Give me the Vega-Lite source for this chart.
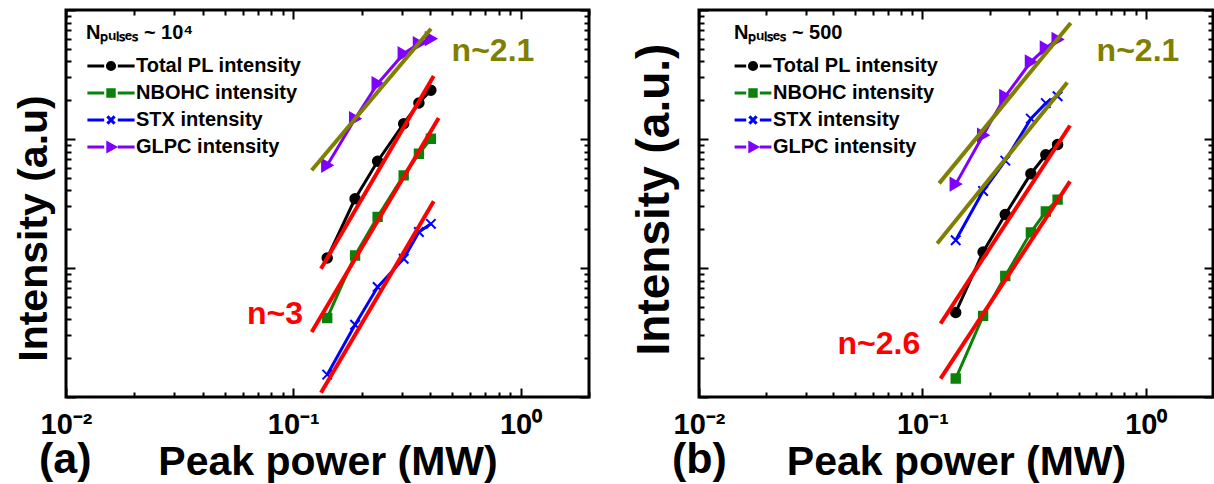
{
  "$schema": "https://vega.github.io/schema/vega-lite/v6.json",
  "background": "white",
  "padding": {"left": 11, "top": 7, "right": 0, "bottom": 0},
  "spacing": 37,
  "resolve": {"scale": {"color": "independent", "shape": "independent", "fill": "independent", "stroke": "independent"}, "legend": {"color": "independent", "shape": "independent"}},
  "config": {
    "font": "Liberation Sans",
    "view": {"stroke": "#000000", "strokeWidth": 3},
    "axis": {"domain": false, "grid": false, "tickColor": "#000000", "tickWidth": 2, "labelFont": "Liberation Sans", "labelFontWeight": "bold", "labelFontSize": 29, "labelColor": "#000000", "labelAlign": "center", "titleFont": "Liberation Sans", "titleFontWeight": "bold", "titleColor": "#000000", "labelOverlap": false, "labelFlush": false},
    "legend": {"orient": "none", "padding": 0, "titleFont": "Liberation Sans", "titleFontWeight": "bold", "titleFontSize": 20, "titleColor": "#000000", "labelFont": "Liberation Sans", "labelFontWeight": "bold", "labelFontSize": 20, "labelColor": "#000000", "labelLimit": 400, "symbolSize": 64, "symbolStrokeWidth": 3, "symbolOpacity": 1, "rowPadding": 7, "titlePadding": 13}
  },
  "datasets": {
    "points": [
      {"panel": "a", "series": "Total PL intensity", "power": 0.141, "intensity": 11.96},
      {"panel": "a", "series": "Total PL intensity", "power": 0.187, "intensity": 34.4},
      {"panel": "a", "series": "Total PL intensity", "power": 0.235, "intensity": 67.2},
      {"panel": "a", "series": "Total PL intensity", "power": 0.306, "intensity": 131.4},
      {"panel": "a", "series": "Total PL intensity", "power": 0.357, "intensity": 190},
      {"panel": "a", "series": "Total PL intensity", "power": 0.403, "intensity": 238.6},
      {"panel": "a", "series": "NBOHC intensity", "power": 0.141, "intensity": 4.1},
      {"panel": "a", "series": "NBOHC intensity", "power": 0.187, "intensity": 12.5},
      {"panel": "a", "series": "NBOHC intensity", "power": 0.235, "intensity": 24.9},
      {"panel": "a", "series": "NBOHC intensity", "power": 0.306, "intensity": 52.3},
      {"panel": "a", "series": "NBOHC intensity", "power": 0.357, "intensity": 76.9},
      {"panel": "a", "series": "NBOHC intensity", "power": 0.403, "intensity": 100.5},
      {"panel": "a", "series": "STX intensity", "power": 0.141, "intensity": 1.49},
      {"panel": "a", "series": "STX intensity", "power": 0.187, "intensity": 3.63},
      {"panel": "a", "series": "STX intensity", "power": 0.235, "intensity": 7.12},
      {"panel": "a", "series": "STX intensity", "power": 0.306, "intensity": 11.8},
      {"panel": "a", "series": "STX intensity", "power": 0.357, "intensity": 19.0},
      {"panel": "a", "series": "STX intensity", "power": 0.403, "intensity": 22.0},
      {"panel": "a", "series": "GLPC intensity", "power": 0.141, "intensity": 62.5},
      {"panel": "a", "series": "GLPC intensity", "power": 0.187, "intensity": 143.7},
      {"panel": "a", "series": "GLPC intensity", "power": 0.235, "intensity": 268.5},
      {"panel": "a", "series": "GLPC intensity", "power": 0.306, "intensity": 458},
      {"panel": "a", "series": "GLPC intensity", "power": 0.357, "intensity": 548},
      {"panel": "a", "series": "GLPC intensity", "power": 0.403, "intensity": 599},
      {"panel": "b", "series": "Total PL intensity", "power": 0.141, "intensity": 4.52},
      {"panel": "b", "series": "Total PL intensity", "power": 0.187, "intensity": 13.3},
      {"panel": "b", "series": "Total PL intensity", "power": 0.235, "intensity": 26.0},
      {"panel": "b", "series": "Total PL intensity", "power": 0.306, "intensity": 53.8},
      {"panel": "b", "series": "Total PL intensity", "power": 0.357, "intensity": 75.4},
      {"panel": "b", "series": "Total PL intensity", "power": 0.403, "intensity": 90.6},
      {"panel": "b", "series": "NBOHC intensity", "power": 0.141, "intensity": 1.39},
      {"panel": "b", "series": "NBOHC intensity", "power": 0.187, "intensity": 4.25},
      {"panel": "b", "series": "NBOHC intensity", "power": 0.235, "intensity": 8.67},
      {"panel": "b", "series": "NBOHC intensity", "power": 0.306, "intensity": 18.9},
      {"panel": "b", "series": "NBOHC intensity", "power": 0.357, "intensity": 27.4},
      {"panel": "b", "series": "NBOHC intensity", "power": 0.403, "intensity": 33.9},
      {"panel": "b", "series": "STX intensity", "power": 0.141, "intensity": 16.4},
      {"panel": "b", "series": "STX intensity", "power": 0.187, "intensity": 39.5},
      {"panel": "b", "series": "STX intensity", "power": 0.235, "intensity": 68.0},
      {"panel": "b", "series": "STX intensity", "power": 0.306, "intensity": 143.9},
      {"panel": "b", "series": "STX intensity", "power": 0.357, "intensity": 189.8},
      {"panel": "b", "series": "STX intensity", "power": 0.403, "intensity": 214.3},
      {"panel": "b", "series": "GLPC intensity", "power": 0.141, "intensity": 44.7},
      {"panel": "b", "series": "GLPC intensity", "power": 0.187, "intensity": 107},
      {"panel": "b", "series": "GLPC intensity", "power": 0.235, "intensity": 214},
      {"panel": "b", "series": "GLPC intensity", "power": 0.306, "intensity": 396.6},
      {"panel": "b", "series": "GLPC intensity", "power": 0.357, "intensity": 507.6},
      {"panel": "b", "series": "GLPC intensity", "power": 0.403, "intensity": 591.7}
    ],
    "fits": [
      {"panel": "a", "fit": "a1", "exponent": "3", "power": 0.1324, "intensity": 9.88},
      {"panel": "a", "fit": "a1", "exponent": "3", "power": 0.4148, "intensity": 307.8},
      {"panel": "a", "fit": "a2", "exponent": "3", "power": 0.1205, "intensity": 3.19},
      {"panel": "a", "fit": "a2", "exponent": "3", "power": 0.4362, "intensity": 145.5},
      {"panel": "a", "fit": "a3", "exponent": "3", "power": 0.1324, "intensity": 1.08},
      {"panel": "a", "fit": "a3", "exponent": "3", "power": 0.4148, "intensity": 32.9},
      {"panel": "a", "fit": "a4", "exponent": "2.1", "power": 0.1205, "intensity": 57.2},
      {"panel": "a", "fit": "a4", "exponent": "2.1", "power": 0.4035, "intensity": 716},
      {"panel": "b", "fit": "b1", "exponent": "2.1", "power": 0.1189, "intensity": 45.3},
      {"panel": "b", "fit": "b1", "exponent": "2.1", "power": 0.4615, "intensity": 794},
      {"panel": "b", "fit": "b2", "exponent": "2.1", "power": 0.1165, "intensity": 15.5},
      {"panel": "b", "fit": "b2", "exponent": "2.1", "power": 0.4452, "intensity": 274},
      {"panel": "b", "fit": "b3", "exponent": "2.6", "power": 0.1206, "intensity": 3.71},
      {"panel": "b", "fit": "b3", "exponent": "2.6", "power": 0.4581, "intensity": 127.3},
      {"panel": "b", "fit": "b4", "exponent": "2.6", "power": 0.1206, "intensity": 1.39},
      {"panel": "b", "fit": "b4", "exponent": "2.6", "power": 0.4581, "intensity": 47.0}
    ],
    "notes": [
      {"panel": "a", "label": "n~2.1", "power": 0.756, "intensity": 481},
      {"panel": "a", "label": "n~3", "power": 0.0831, "intensity": 4.4},
      {"panel": "b", "label": "n~2.1", "power": 0.9228, "intensity": 484},
      {"panel": "b", "label": "n~2.6", "power": 0.0639, "intensity": 2.575}
    ]
  },
  "hconcat": [
    {
      "width": 523,
      "height": 387,
      "title": {"text": "(a)", "orient": "bottom", "anchor": "start", "frame": "group", "fontSize": 43, "fontWeight": "bold", "font": "Liberation Sans", "color": "#000000", "dx": -27, "dy": -43, "offset": 0},
      "resolve": {"axis": {"x": "independent", "y": "independent"}},
      "layer": [
        {
          "data": {"name": "points"},
          "transform": [{"filter": "datum.panel === 'a'"}],
          "mark": {"type": "line", "strokeWidth": 3},
          "encoding": {
            "x": {"field": "power", "type": "quantitative", "scale": {"type": "log", "domain": [0.01, 2]},
              "axis": {"orient": "bottom", "values": [0.01,0.02,0.03,0.04,0.05,0.06,0.07,0.08,0.09,0.1,0.2,0.3,0.4,0.5,0.6,0.7,0.8,0.9,1,2],
                "tickSize": {"condition": {"test": "datum.value == 0.01 || datum.value == 0.1 || datum.value == 1", "value": -9}, "value": -5},
                "labelExpr": "datum.value == 0.01 ? '10⁻²' : datum.value == 0.1 ? '10⁻¹' : datum.value == 1 ? '10⁰' : ''",
                "labelAlign": "center", "labelFlush": false, "labelPadding": 22, "title": "Peak power (MW)", "titleFontSize": 41, "titlePadding": -1}},
            "y": {"field": "intensity", "type": "quantitative", "scale": {"type": "log", "domain": [1, 1000]},
              "axis": {"orient": "left", "values": [1,2,3,4,5,6,7,8,9,10,20,30,40,50,60,70,80,90,100,200,300,400,500,600,700,800,900,1000],
                "tickSize": {"condition": {"test": "datum.value == 1 || datum.value == 10 || datum.value == 100 || datum.value == 1000", "value": -9}, "value": -5},
                "labels": false, "title": "Intensity (a.u)", "titleFontSize": 41, "titlePadding": 10, "titleY": 218}},
            "stroke": {"field": "series", "type": "nominal", "legend": null,
              "scale": {"range": ["#8000ff", "#0a820a", "#0000ff", "#000000"]}}
          }
        },
        {
          "data": {"name": "points"},
          "transform": [{"filter": "datum.panel === 'a'"}],
          "mark": {"type": "point", "filled": true, "strokeWidth": 2, "opacity": 1},
          "encoding": {
            "x": {"field": "power", "type": "quantitative", "scale": {"type": "log", "domain": [0.01, 2]}, "axis": null},
            "y": {"field": "intensity", "type": "quantitative", "scale": {"type": "log", "domain": [1, 1000]}, "axis": null},
            "fill": {"field": "series", "type": "nominal", "legend": null,
              "scale": {"range": ["#8000ff", "#0a820a", "#0000ff", "#000000"]}},
            "stroke": {"field": "series", "type": "nominal", "legend": null},
            "shape": {"condition": [
              {"test": "datum.series === 'Total PL intensity'", "value": "circle"},
              {"test": "datum.series === 'NBOHC intensity'", "value": "square"},
              {"test": "datum.series === 'STX intensity'", "value": "M-1,-1L1,1M-1,1L1,-1"}], "value": "triangle-right"},
            "size": {"condition": [
              {"test": "datum.series === 'Total PL intensity'", "value": 90},
              {"test": "datum.series === 'NBOHC intensity'", "value": 70},
              {"test": "datum.series === 'STX intensity'", "value": 90}], "value": 140}
          }
        },
        {
          "data": {"name": "fits"},
          "transform": [{"filter": "datum.panel === 'a'"}],
          "mark": {"type": "line", "strokeWidth": 4},
          "encoding": {
            "x": {"field": "power", "type": "quantitative", "scale": {"type": "log", "domain": [0.01, 2]}, "axis": null},
            "y": {"field": "intensity", "type": "quantitative", "scale": {"type": "log", "domain": [1, 1000]}, "axis": null},
            "detail": {"field": "fit"},
            "color": {"condition": {"test": "datum.exponent === '2.1'", "value": "#808000"}, "value": "#ff0000"}
          }
        },
        {
          "data": {"name": "notes"},
          "transform": [{"filter": "datum.panel === 'a'"}],
          "mark": {"type": "text", "fontSize": 32, "fontWeight": "bold", "font": "Liberation Sans", "align": "center", "baseline": "middle"},
          "encoding": {
            "x": {"field": "power", "type": "quantitative", "scale": {"type": "log", "domain": [0.01, 2]}, "axis": null},
            "y": {"field": "intensity", "type": "quantitative", "scale": {"type": "log", "domain": [1, 1000]}, "axis": null},
            "text": {"field": "label"},
            "color": {"condition": {"test": "datum.label === 'n~2.1'", "value": "#808000"}, "value": "#ff0000"}
          }
        },
        {
          "data": {"name": "points"},
          "transform": [{"filter": "datum.panel === 'a'"}],
          "mark": {"type": "point", "filled": false, "opacity": 0, "size": 64, "strokeWidth": 3},
          "encoding": {
            "x": {"field": "power", "type": "quantitative", "scale": {"type": "log", "domain": [0.01, 2]},
              "axis": {"orient": "top", "values": [0.01,0.02,0.03,0.04,0.05,0.06,0.07,0.08,0.09,0.1,0.2,0.3,0.4,0.5,0.6,0.7,0.8,0.9,1,2],
                "tickSize": {"condition": {"test": "datum.value == 0.01 || datum.value == 0.1 || datum.value == 1", "value": -9}, "value": -5},
                "labels": false, "title": null}},
            "y": {"field": "intensity", "type": "quantitative", "scale": {"type": "log", "domain": [1, 1000]},
              "axis": {"orient": "right", "values": [1,2,3,4,5,6,7,8,9,10,20,30,40,50,60,70,80,90,100,200,300,400,500,600,700,800,900,1000],
                "tickSize": {"condition": {"test": "datum.value == 1 || datum.value == 10 || datum.value == 100 || datum.value == 1000", "value": -9}, "value": -5},
                "labels": false, "title": null}},
            "color": {"field": "series", "type": "nominal",
              "scale": {"domain": ["Total PL intensity", "NBOHC intensity", "STX intensity", "GLPC intensity"], "range": ["#000000", "#0a820a", "#0000ff", "#8000ff"]},
              "legend": {"title": "N\u209a\u1d64\u2097\u209b\u2091\u209b ~ 10\u2074", "legendX": 20, "legendY": 13, "symbolOffset": 15, "labelOffset": 15}},
            "shape": {"field": "series", "type": "nominal",
              "scale": {"domain": ["Total PL intensity", "NBOHC intensity", "STX intensity", "GLPC intensity"],
                "range": [
                  "M-5.9,0H-1.7M1.7,0H5.9M-0.9,0A0.9,0.9,0,1,1,0.9,0A0.9,0.9,0,1,1,-0.9,0M-0.3,0A0.3,0.3,0,1,1,0.3,0A0.3,0.3,0,1,1,-0.3,0",
                  "M-5.9,0H-1.7M1.7,0H5.9M-0.8,-0.8H0.8V0.8H-0.8ZM-0.2,-0.2H0.2V0.2H-0.2Z",
                  "M-5.9,0H-1.7M1.7,0H5.9M-0.9,-0.9L0.9,0.9M-0.9,0.9L0.9,-0.9",
                  "M-5.9,0H-1.7M1.7,0H5.9M-0.8,-1L1,0L-0.8,1ZM-0.3,-0.25L0.3,0L-0.3,0.25Z"]},
              "legend": {"title": "N\u209a\u1d64\u2097\u209b\u2091\u209b ~ 10\u2074", "legendX": 20, "legendY": 13, "symbolOffset": 15, "labelOffset": 15}}
          }
        }
      ]
    },
    {
      "width": 514,
      "height": 387,
      "title": {"text": "(b)", "orient": "bottom", "anchor": "start", "frame": "group", "fontSize": 43, "fontWeight": "bold", "font": "Liberation Sans", "color": "#000000", "dx": -27, "dy": -43, "offset": 0},
      "resolve": {"axis": {"x": "independent", "y": "independent"}},
      "layer": [
        {
          "data": {"name": "points"},
          "transform": [{"filter": "datum.panel === 'b'"}],
          "mark": {"type": "line", "strokeWidth": 3},
          "encoding": {
            "x": {"field": "power", "type": "quantitative", "scale": {"type": "log", "domain": [0.01, 2]},
              "axis": {"orient": "bottom", "values": [0.01,0.02,0.03,0.04,0.05,0.06,0.07,0.08,0.09,0.1,0.2,0.3,0.4,0.5,0.6,0.7,0.8,0.9,1,2],
                "tickSize": {"condition": {"test": "datum.value == 0.01 || datum.value == 0.1 || datum.value == 1", "value": -9}, "value": -5},
                "labelExpr": "datum.value == 0.01 ? '10⁻²' : datum.value == 0.1 ? '10⁻¹' : datum.value == 1 ? '10⁰' : ''",
                "labelAlign": "center", "labelFlush": false, "labelPadding": 22, "title": "Peak power (MW)", "titleFontSize": 41, "titlePadding": -1}},
            "y": {"field": "intensity", "type": "quantitative", "scale": {"type": "log", "domain": [1, 1000]},
              "axis": {"orient": "left", "values": [1,2,3,4,5,6,7,8,9,10,20,30,40,50,60,70,80,90,100,200,300,400,500,600,700,800,900,1000],
                "tickSize": {"condition": {"test": "datum.value == 1 || datum.value == 10 || datum.value == 100 || datum.value == 1000", "value": -9}, "value": -5},
                "labels": false, "title": "Intensity (a.u.)", "titleFontSize": 46, "titlePadding": 20, "titleY": 189}},
            "stroke": {"field": "series", "type": "nominal", "legend": null,
              "scale": {"range": ["#8000ff", "#0a820a", "#0000ff", "#000000"]}}
          }
        },
        {
          "data": {"name": "points"},
          "transform": [{"filter": "datum.panel === 'b'"}],
          "mark": {"type": "point", "filled": true, "strokeWidth": 2, "opacity": 1},
          "encoding": {
            "x": {"field": "power", "type": "quantitative", "scale": {"type": "log", "domain": [0.01, 2]}, "axis": null},
            "y": {"field": "intensity", "type": "quantitative", "scale": {"type": "log", "domain": [1, 1000]}, "axis": null},
            "fill": {"field": "series", "type": "nominal", "legend": null,
              "scale": {"range": ["#8000ff", "#0a820a", "#0000ff", "#000000"]}},
            "stroke": {"field": "series", "type": "nominal", "legend": null},
            "shape": {"condition": [
              {"test": "datum.series === 'Total PL intensity'", "value": "circle"},
              {"test": "datum.series === 'NBOHC intensity'", "value": "square"},
              {"test": "datum.series === 'STX intensity'", "value": "M-1,-1L1,1M-1,1L1,-1"}], "value": "triangle-right"},
            "size": {"condition": [
              {"test": "datum.series === 'Total PL intensity'", "value": 90},
              {"test": "datum.series === 'NBOHC intensity'", "value": 70},
              {"test": "datum.series === 'STX intensity'", "value": 90}], "value": 140}
          }
        },
        {
          "data": {"name": "fits"},
          "transform": [{"filter": "datum.panel === 'b'"}],
          "mark": {"type": "line", "strokeWidth": 4},
          "encoding": {
            "x": {"field": "power", "type": "quantitative", "scale": {"type": "log", "domain": [0.01, 2]}, "axis": null},
            "y": {"field": "intensity", "type": "quantitative", "scale": {"type": "log", "domain": [1, 1000]}, "axis": null},
            "detail": {"field": "fit"},
            "color": {"condition": {"test": "datum.exponent === '2.1'", "value": "#808000"}, "value": "#ff0000"}
          }
        },
        {
          "data": {"name": "notes"},
          "transform": [{"filter": "datum.panel === 'b'"}],
          "mark": {"type": "text", "fontSize": 32, "fontWeight": "bold", "font": "Liberation Sans", "align": "center", "baseline": "middle"},
          "encoding": {
            "x": {"field": "power", "type": "quantitative", "scale": {"type": "log", "domain": [0.01, 2]}, "axis": null},
            "y": {"field": "intensity", "type": "quantitative", "scale": {"type": "log", "domain": [1, 1000]}, "axis": null},
            "text": {"field": "label"},
            "color": {"condition": {"test": "datum.label === 'n~2.1'", "value": "#808000"}, "value": "#ff0000"}
          }
        },
        {
          "data": {"name": "points"},
          "transform": [{"filter": "datum.panel === 'b'"}],
          "mark": {"type": "point", "filled": false, "opacity": 0, "size": 64, "strokeWidth": 3},
          "encoding": {
            "x": {"field": "power", "type": "quantitative", "scale": {"type": "log", "domain": [0.01, 2]},
              "axis": {"orient": "top", "values": [0.01,0.02,0.03,0.04,0.05,0.06,0.07,0.08,0.09,0.1,0.2,0.3,0.4,0.5,0.6,0.7,0.8,0.9,1,2],
                "tickSize": {"condition": {"test": "datum.value == 0.01 || datum.value == 0.1 || datum.value == 1", "value": -9}, "value": -5},
                "labels": false, "title": null}},
            "y": {"field": "intensity", "type": "quantitative", "scale": {"type": "log", "domain": [1, 1000]},
              "axis": {"orient": "right", "values": [1,2,3,4,5,6,7,8,9,10,20,30,40,50,60,70,80,90,100,200,300,400,500,600,700,800,900,1000],
                "tickSize": {"condition": {"test": "datum.value == 1 || datum.value == 10 || datum.value == 100 || datum.value == 1000", "value": -9}, "value": -5},
                "labels": false, "title": null}},
            "color": {"field": "series", "type": "nominal",
              "scale": {"domain": ["Total PL intensity", "NBOHC intensity", "STX intensity", "GLPC intensity"], "range": ["#000000", "#0a820a", "#0000ff", "#8000ff"]},
              "legend": {"title": "N\u209a\u1d64\u2097\u209b\u2091\u209b ~ 500", "legendX": 35, "legendY": 13, "symbolOffset": 9, "labelOffset": 10}},
            "shape": {"field": "series", "type": "nominal",
              "scale": {"domain": ["Total PL intensity", "NBOHC intensity", "STX intensity", "GLPC intensity"],
                "range": [
                  "M-4.6,0H-1.7M1.7,0H4.6M-0.9,0A0.9,0.9,0,1,1,0.9,0A0.9,0.9,0,1,1,-0.9,0M-0.3,0A0.3,0.3,0,1,1,0.3,0A0.3,0.3,0,1,1,-0.3,0",
                  "M-4.6,0H-1.7M1.7,0H4.6M-0.8,-0.8H0.8V0.8H-0.8ZM-0.2,-0.2H0.2V0.2H-0.2Z",
                  "M-4.6,0H-1.7M1.7,0H4.6M-0.9,-0.9L0.9,0.9M-0.9,0.9L0.9,-0.9",
                  "M-4.6,0H-1.7M1.7,0H4.6M-0.8,-1L1,0L-0.8,1ZM-0.3,-0.25L0.3,0L-0.3,0.25Z"]},
              "legend": {"title": "N\u209a\u1d64\u2097\u209b\u2091\u209b ~ 500", "legendX": 35, "legendY": 13, "symbolOffset": 9, "labelOffset": 10}}
          }
        }
      ]
    }
  ]
}
